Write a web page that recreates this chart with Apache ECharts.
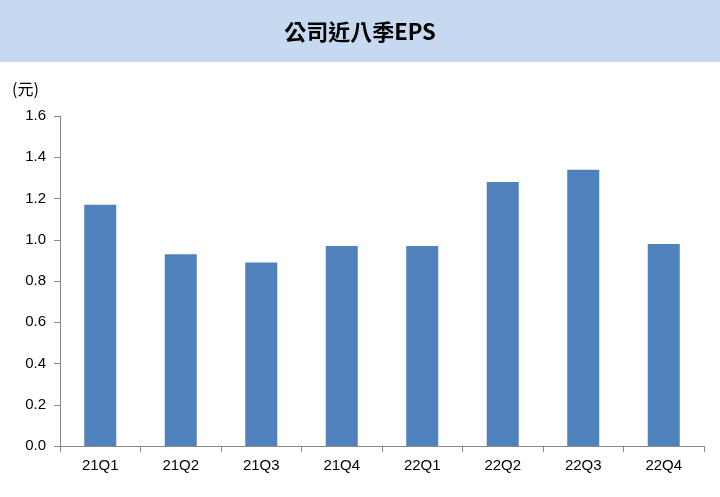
<!DOCTYPE html>
<html>
<head>
<meta charset="utf-8">
<script src="https://cdn.jsdelivr.net/npm/echarts@6/dist/echarts.min.js"></script>
<style>
  html, body { margin: 0; padding: 0; background: #fff; }
  #chart { width: 720px; height: 497px; }
</style>
</head>
<body>
<div id="chart"></div>
<script>
const categories = ["21Q1", "21Q2", "21Q3", "21Q4", "22Q1", "22Q2", "22Q3", "22Q4"];
const epsValues = [1.17, 0.93, 0.89, 0.97, 0.97, 1.28, 1.34, 0.98];

const chart = echarts.init(document.getElementById("chart"));
chart.setOption({
    animation: false,
    graphic: [
        {
            type: "rect",
            shape: { x: 0, y: 0, width: 720, height: 62 },
            style: { fill: "#c6d9f1" },
        },
        {
            type: "text",
            x: 360,
            y: 32,
            style: {
                text: "公司近八季EPS",
                fill: "#000",
                font: "bold 22px 'Noto Sans CJK TC', sans-serif",
                align: "center",
                verticalAlign: "middle",
            },
        },
        {
            type: "text",
            x: 12,
            y: 89,
            style: {
                text: "(元)",
                fill: "#000",
                font: "16px 'Noto Sans CJK TC', sans-serif",
                verticalAlign: "middle",
            },
        },
    ],
    grid: {
        left: 60,
        right: 16,
        top: 116,
        bottom: 51,
    },
    xAxis: {
        type: "category",
        data: categories,
        axisLine: { lineStyle: { color: "#888" } },
        axisTick: { show: true, lineStyle: { color: "#888" }, length: 6 },
        axisLabel: { color: "#000", fontSize: 15, fontFamily: "Liberation Sans", margin: 12 },
    },
    yAxis: {
        type: "value",
        min: 0,
        max: 1.6,
        interval: 0.2,
        splitLine: { show: false },
        axisLine: { show: true, lineStyle: { color: "#888" } },
        axisTick: { show: true, lineStyle: { color: "#888" }, length: 6 },
        axisLabel: {
            color: "#000",
            fontSize: 15,
            fontFamily: "Liberation Sans",
            margin: 14,
            formatter: (v) => v.toFixed(1),
        },
    },
    series: [
        {
            type: "bar",
            data: epsValues,
            barWidth: 32,
            itemStyle: { color: "#4f81bd" },
        },
    ],
});
</script>
</body>
</html>
